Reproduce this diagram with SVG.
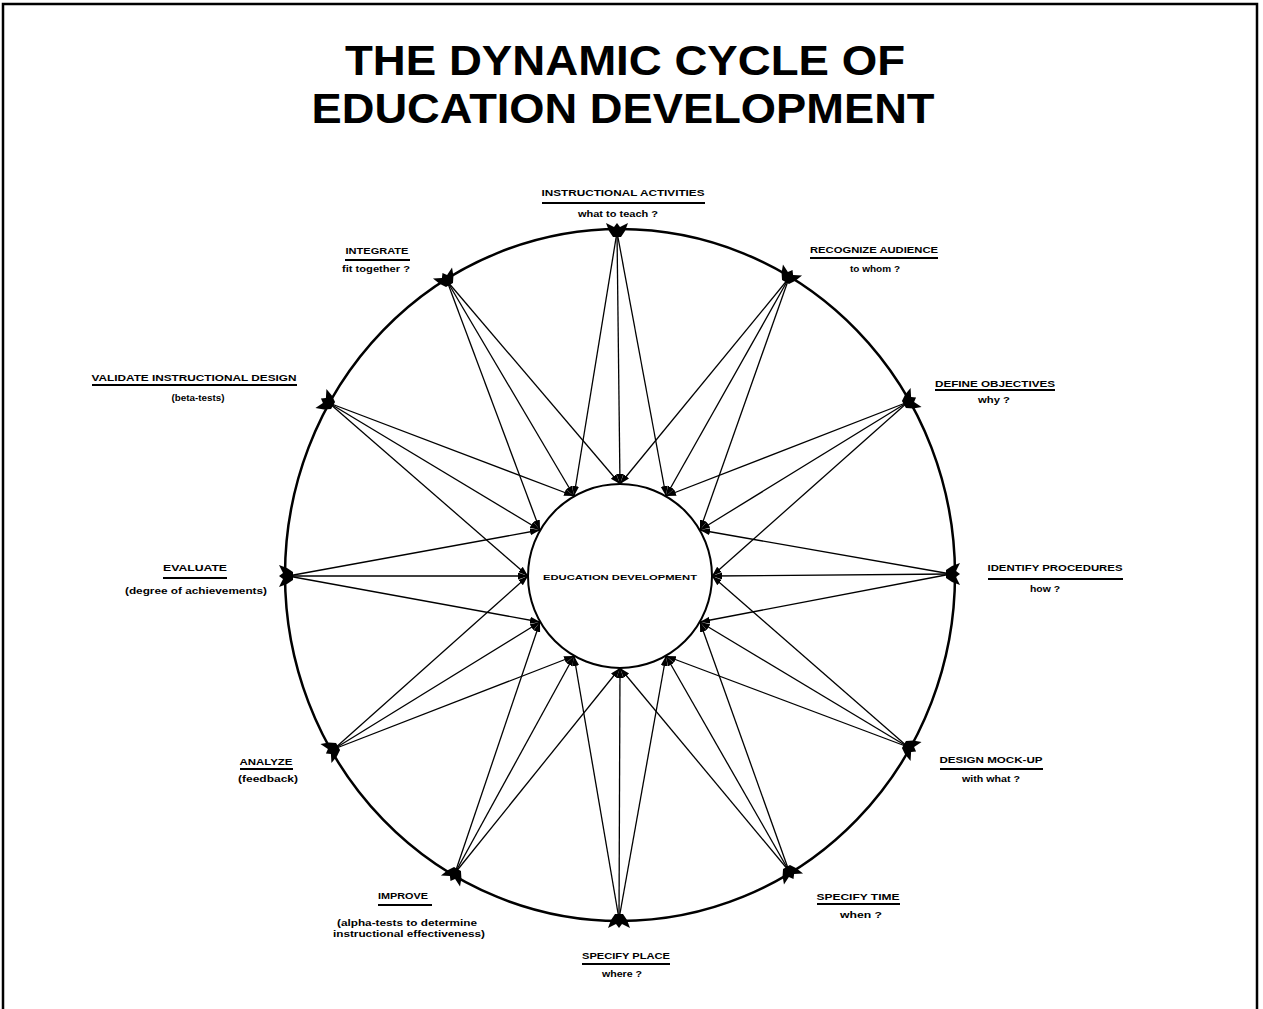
<svg xmlns="http://www.w3.org/2000/svg" width="1263" height="1009" viewBox="0 0 1263 1009">
<style>
.t{font-family:"Liberation Sans",Arial,sans-serif;font-weight:bold;fill:#000}
.title{font-size:42px}
.lb{font-size:9px}
.ul{stroke:#000;stroke-width:2}
.c{stroke:#000;stroke-width:1.3;fill:none}
.frame{stroke:#000;stroke-width:2.5;fill:none}
</style>
<defs>
<marker id="ah" markerUnits="userSpaceOnUse" markerWidth="11" markerHeight="8" refX="10" refY="3.5" orient="auto"><path d="M0,0 L10,3.5 L0,7 Z" fill="#000"/></marker>
<path id="blob" d="M-11,-7 L-3,-3 L0,-7 L3,-3 L11,-7 L8,1 L4,7 L-4,7 L-8,1 Z" fill="#000"/>
</defs>
<rect width="1263" height="1009" fill="#fff"/>
<path class="frame" d="M3,1009 V4 H1257 V1009"/>
<g id="title">
<text class="t title" x="625" y="75" text-anchor="middle" textLength="560" lengthAdjust="spacingAndGlyphs">THE DYNAMIC CYCLE OF</text>
<text class="t title" x="623" y="123" text-anchor="middle" textLength="623" lengthAdjust="spacingAndGlyphs">EDUCATION DEVELOPMENT</text>
</g>
<g id="cycle">
<ellipse cx="620" cy="575" rx="335" ry="346" fill="none" stroke="#000" stroke-width="2.5"/>
</g>
<g id="connectors">
<line class="c" marker-end="url(#ah)" x1="617" y1="232" x2="574" y2="496"/>
<line class="c" marker-end="url(#ah)" x1="617" y1="232" x2="620" y2="484"/>
<line class="c" marker-end="url(#ah)" x1="617" y1="232" x2="666" y2="496"/>
<line class="c" marker-end="url(#ah)" x1="789" y1="278" x2="620" y2="484"/>
<line class="c" marker-end="url(#ah)" x1="789" y1="278" x2="666" y2="496"/>
<line class="c" marker-end="url(#ah)" x1="789" y1="278" x2="700" y2="530"/>
<line class="c" marker-end="url(#ah)" x1="908" y1="402" x2="666" y2="496"/>
<line class="c" marker-end="url(#ah)" x1="908" y1="402" x2="700" y2="530"/>
<line class="c" marker-end="url(#ah)" x1="908" y1="402" x2="712" y2="576"/>
<line class="c" marker-end="url(#ah)" x1="951" y1="574" x2="700" y2="530"/>
<line class="c" marker-end="url(#ah)" x1="951" y1="574" x2="712" y2="576"/>
<line class="c" marker-end="url(#ah)" x1="951" y1="574" x2="700" y2="622"/>
<line class="c" marker-end="url(#ah)" x1="908" y1="747" x2="712" y2="576"/>
<line class="c" marker-end="url(#ah)" x1="908" y1="747" x2="700" y2="622"/>
<line class="c" marker-end="url(#ah)" x1="908" y1="747" x2="666" y2="656"/>
<line class="c" marker-end="url(#ah)" x1="789" y1="871" x2="700" y2="622"/>
<line class="c" marker-end="url(#ah)" x1="789" y1="871" x2="666" y2="656"/>
<line class="c" marker-end="url(#ah)" x1="789" y1="871" x2="620" y2="668"/>
<line class="c" marker-end="url(#ah)" x1="619" y1="919" x2="666" y2="656"/>
<line class="c" marker-end="url(#ah)" x1="619" y1="919" x2="620" y2="668"/>
<line class="c" marker-end="url(#ah)" x1="619" y1="919" x2="574" y2="656"/>
<line class="c" marker-end="url(#ah)" x1="455" y1="873" x2="620" y2="668"/>
<line class="c" marker-end="url(#ah)" x1="455" y1="873" x2="574" y2="656"/>
<line class="c" marker-end="url(#ah)" x1="455" y1="873" x2="540" y2="622"/>
<line class="c" marker-end="url(#ah)" x1="334" y1="749" x2="574" y2="656"/>
<line class="c" marker-end="url(#ah)" x1="334" y1="749" x2="540" y2="622"/>
<line class="c" marker-end="url(#ah)" x1="334" y1="749" x2="528" y2="576"/>
<line class="c" marker-end="url(#ah)" x1="288" y1="576" x2="540" y2="622"/>
<line class="c" marker-end="url(#ah)" x1="288" y1="576" x2="528" y2="576"/>
<line class="c" marker-end="url(#ah)" x1="288" y1="576" x2="540" y2="530"/>
<line class="c" marker-end="url(#ah)" x1="329" y1="403" x2="528" y2="576"/>
<line class="c" marker-end="url(#ah)" x1="329" y1="403" x2="540" y2="530"/>
<line class="c" marker-end="url(#ah)" x1="329" y1="403" x2="574" y2="496"/>
<line class="c" marker-end="url(#ah)" x1="447" y1="281" x2="540" y2="530"/>
<line class="c" marker-end="url(#ah)" x1="447" y1="281" x2="574" y2="496"/>
<line class="c" marker-end="url(#ah)" x1="447" y1="281" x2="620" y2="484"/>
</g>
<g id="center">
<circle cx="620" cy="576" r="92" fill="#fff" stroke="#000" stroke-width="2"/>
<text class="t" x="620" y="580" font-size="8" text-anchor="middle" textLength="154" lengthAdjust="spacingAndGlyphs">EDUCATION DEVELOPMENT</text>
</g>
<g id="n0"><use href="#blob" transform="translate(617,230)"/>
<text class="t lb" x="623" y="196" text-anchor="middle" textLength="163" lengthAdjust="spacingAndGlyphs">INSTRUCTIONAL ACTIVITIES</text>
<line class="ul" x1="542" y1="203" x2="705" y2="203"/>
<text class="t lb" x="618" y="217" text-anchor="middle" textLength="80" lengthAdjust="spacingAndGlyphs">what to teach ?</text></g>
<g id="n1"><use href="#blob" transform="translate(789,276) rotate(30)"/>
<text class="t lb" x="874" y="253" text-anchor="middle" textLength="128" lengthAdjust="spacingAndGlyphs">RECOGNIZE AUDIENCE</text>
<line class="ul" x1="810" y1="258" x2="938" y2="258"/>
<text class="t lb" x="875" y="272" text-anchor="middle" textLength="50" lengthAdjust="spacingAndGlyphs">to whom ?</text></g>
<g id="n2"><use href="#blob" transform="translate(910,401) rotate(60)"/>
<text class="t lb" x="995" y="387" text-anchor="middle" textLength="120" lengthAdjust="spacingAndGlyphs">DEFINE OBJECTIVES</text>
<line class="ul" x1="935" y1="390" x2="1055" y2="390"/>
<text class="t lb" x="994" y="403" text-anchor="middle" textLength="32" lengthAdjust="spacingAndGlyphs">why ?</text></g>
<g id="n3"><use href="#blob" transform="translate(953,574) rotate(90)"/>
<text class="t lb" x="1055" y="571" text-anchor="middle" textLength="135" lengthAdjust="spacingAndGlyphs">IDENTIFY PROCEDURES</text>
<line class="ul" x1="988" y1="579" x2="1123" y2="579"/>
<text class="t lb" x="1045" y="592" text-anchor="middle" textLength="30" lengthAdjust="spacingAndGlyphs">how ?</text></g>
<g id="n4"><use href="#blob" transform="translate(910,748) rotate(120)"/>
<text class="t lb" x="991" y="763" text-anchor="middle" textLength="103" lengthAdjust="spacingAndGlyphs">DESIGN MOCK-UP</text>
<line class="ul" x1="940" y1="769" x2="1043" y2="769"/>
<text class="t lb" x="991" y="782" text-anchor="middle" textLength="58" lengthAdjust="spacingAndGlyphs">with what ?</text></g>
<g id="n5"><use href="#blob" transform="translate(790,873) rotate(150)"/>
<text class="t lb" x="858" y="900" text-anchor="middle" textLength="83" lengthAdjust="spacingAndGlyphs">SPECIFY TIME</text>
<line class="ul" x1="817" y1="904" x2="900" y2="904"/>
<text class="t lb" x="861" y="918" text-anchor="middle" textLength="42" lengthAdjust="spacingAndGlyphs">when ?</text></g>
<g id="n6"><use href="#blob" transform="translate(619,921) rotate(180)"/>
<text class="t lb" x="626" y="959" text-anchor="middle" textLength="88" lengthAdjust="spacingAndGlyphs">SPECIFY PLACE</text>
<line class="ul" x1="582" y1="964" x2="670" y2="964"/>
<text class="t lb" x="622" y="977" text-anchor="middle" textLength="40" lengthAdjust="spacingAndGlyphs">where ?</text></g>
<g id="n7"><use href="#blob" transform="translate(454,875) rotate(210)"/>
<text class="t lb" x="403" y="899" text-anchor="middle" textLength="50" lengthAdjust="spacingAndGlyphs">IMPROVE</text>
<line class="ul" x1="378" y1="905" x2="432" y2="905"/>
<text class="t lb" x="407" y="926" text-anchor="middle" textLength="140" lengthAdjust="spacingAndGlyphs">(alpha-tests to determine</text>
<text class="t lb" x="409" y="937" text-anchor="middle" textLength="152" lengthAdjust="spacingAndGlyphs">instructional effectiveness)</text></g>
<g id="n8"><use href="#blob" transform="translate(332,750) rotate(240)"/>
<text class="t lb" x="266" y="765" text-anchor="middle" textLength="53" lengthAdjust="spacingAndGlyphs">ANALYZE</text>
<line class="ul" x1="240" y1="769" x2="293" y2="769"/>
<text class="t lb" x="268" y="782" text-anchor="middle" textLength="60" lengthAdjust="spacingAndGlyphs">(feedback)</text></g>
<g id="n9"><use href="#blob" transform="translate(286,576) rotate(270)"/>
<text class="t lb" x="195" y="571" text-anchor="middle" textLength="64" lengthAdjust="spacingAndGlyphs">EVALUATE</text>
<line class="ul" x1="163" y1="578" x2="227" y2="578"/>
<text class="t lb" x="196" y="594" text-anchor="middle" textLength="142" lengthAdjust="spacingAndGlyphs">(degree of achievements)</text></g>
<g id="n10"><use href="#blob" transform="translate(327,402) rotate(300)"/>
<text class="t lb" x="194" y="381" text-anchor="middle" textLength="205" lengthAdjust="spacingAndGlyphs">VALIDATE INSTRUCTIONAL DESIGN</text>
<line class="ul" x1="92" y1="385" x2="297" y2="385"/>
<text class="t lb" x="198" y="401" text-anchor="middle" textLength="53" lengthAdjust="spacingAndGlyphs">(beta-tests)</text></g>
<g id="n11"><use href="#blob" transform="translate(446,279) rotate(330)"/>
<text class="t lb" x="377" y="254" text-anchor="middle" textLength="63" lengthAdjust="spacingAndGlyphs">INTEGRATE</text>
<line class="ul" x1="345" y1="260" x2="410" y2="260"/>
<text class="t lb" x="376" y="272" text-anchor="middle" textLength="68" lengthAdjust="spacingAndGlyphs">fit together ?</text></g>
</svg>
